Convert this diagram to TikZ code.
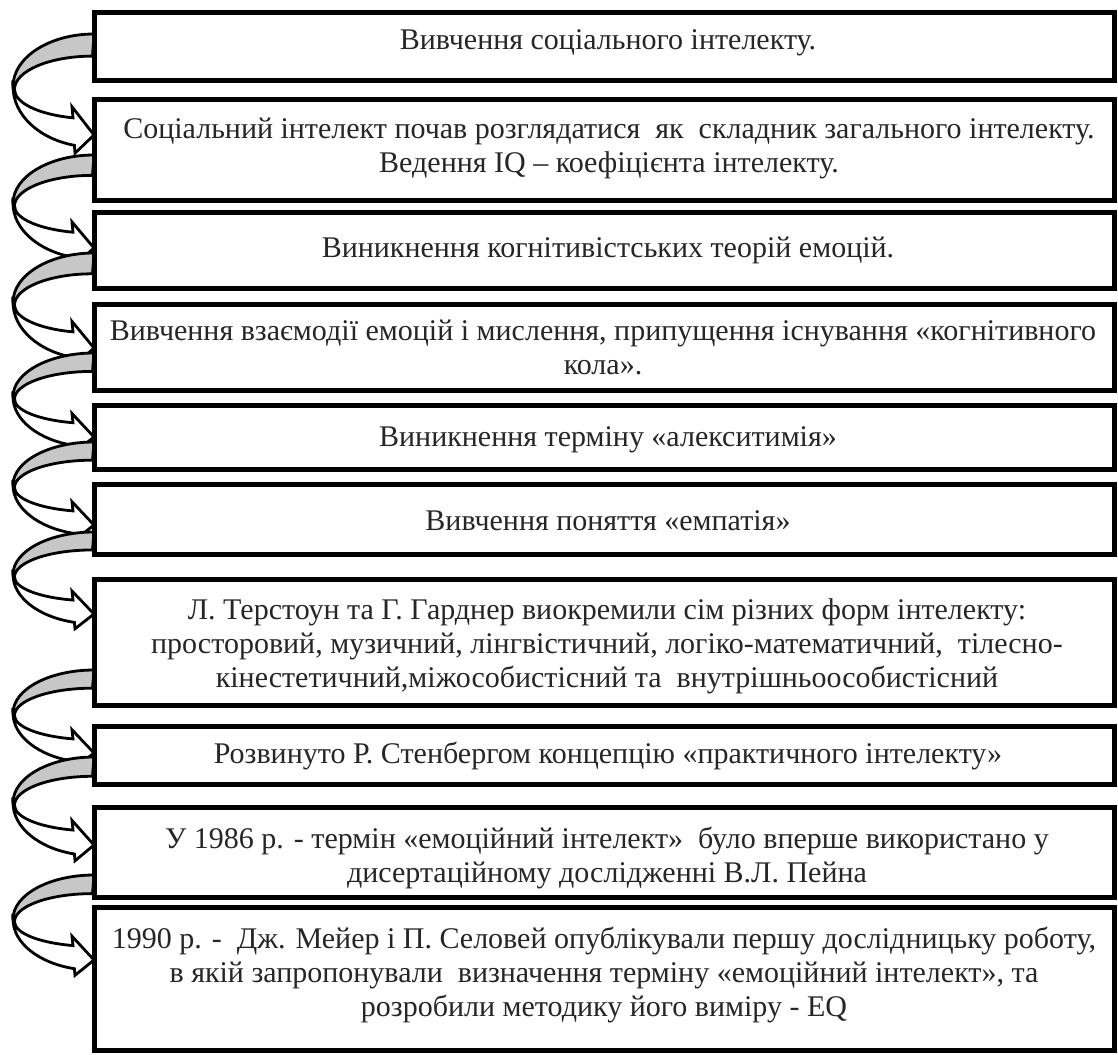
\documentclass[tikz,border=0pt]{standalone}
\usepackage{fontspec}
\setmainfont{Liberation Serif}
\begin{document}
\begin{tikzpicture}[x=1pt,y=1pt,
  box/.style={draw=black, line width=5pt, fill=white, rectangle, inner sep=0pt, minimum width=1019.5pt},
  txt/.style={align=center, inner sep=0pt, text=black!85, font=\fontsize{30}{34}\selectfont},
  backband/.style={fill=black!22, draw=black, line width=2.8pt, line join=round},
  frontband/.style={fill=white, draw=black, line width=2.8pt, line join=miter}]
\useasboundingbox (0,0) rectangle (1118,-1054);
\fill[white] (0,0) rectangle (1118,-1054);
\newcommand{\curvarrow}[2]{%
  \begin{scope}[shift={(0,-#1)}, yscale=#2]
    \path[backband] (94,0) arc[start angle=90, end angle=180, x radius=81, y radius=52]
      -- (14.5,-54.9) arc[start angle=180, end angle=90, x radius=78, y radius=33] -- cycle;
    \path[frontband] (13,-52) arc[start angle=180, end angle=256, x radius=81, y radius=60]
      -- (75,-118) -- (94,-100) -- (72,-72) -- (73,-83)
      arc[start angle=255.5, end angle=180, x radius=78, y radius=29] -- cycle;
  \end{scope}}
% curved arrows (drawn under the boxes)
\curvarrow{34}{1.01}
\curvarrow{155}{0.93}
\curvarrow{253}{0.95}
\curvarrow{353}{0.84}
\curvarrow{442}{0.83}
\curvarrow{532}{0.82}
\curvarrow{670}{0.83}
\curvarrow{757}{0.88}
\curvarrow{875}{0.85}
% boxes
\node[box, minimum height=68.5pt]  (b1)  at (604.25,-46.75) {};
\node[box, minimum height=100.5pt] (b2)  at (604.25,-149.75) {};
\node[box, minimum height=75.5pt]  (b3)  at (604.25,-250.25) {};
\node[box, minimum height=85.5pt]  (b4)  at (604.25,-347.25) {};
\node[box, minimum height=64pt]    (b5)  at (604.25,-437.5) {};
\node[box, minimum height=70pt]    (b6)  at (604.25,-519.5) {};
\node[box, minimum height=126pt]   (b7)  at (604.25,-642.5) {};
\node[box, minimum height=58pt]    (b8)  at (604.25,-755.5) {};
\node[box, minimum height=90pt]    (b9)  at (604.25,-852.5) {};
\node[box, minimum height=142.5pt] (b10) at (604.25,-978.75) {};
% texts
\node[txt] (t1) at (608,-43) {Вивчення соціального інтелекту.};
\node[txt] (t2) at (609,-148) {Соціальний інтелект почав розглядатися \ як \ складник загального інтелекту.\\Ведення IQ – коефіцієнта інтелекту.};
\node[txt] (t3) at (608,-250) {Виникнення когнітивістських теорій емоцій.};
\node[txt] (t4) at (603,-347) {Вивчення взаємодії емоцій і мислення, припущення існування «когнітивного\\кола».};
\node[txt] (t5) at (608,-440) {Виникнення терміну «алекситимія»};
\node[txt] (t6) at (608,-521) {Вивчення поняття «емпатія»};
\node[txt] (t7) at (607,-646) {Л. Терстоун та Г. Гарднер виокремили сім різних форм інтелекту:\\просторовий, музичний, лінгвістичний, логіко-математичний, \ тілесно-\\кінестетичний,міжособистісний та \ внутрішньоособистісний};
\node[txt] (t8) at (608,-756) {Розвинуто Р. Стенбергом концепцію «практичного інтелекту»};
\node[txt] (t9) at (607,-858) {У 1986 р. - термін «емоційний інтелект» \ було вперше використано у\\дисертаційному дослідженні В.Л. Пейна};
\node[txt] (t10) at (604,-975) {1990 р. - \ Дж. Мейер і П. Селовей опублікували першу дослідницьку роботу,\\в якій запропонували \ визначення терміну «емоційний інтелект», та\\розробили методику його виміру - EQ};
\end{tikzpicture}
\end{document}
